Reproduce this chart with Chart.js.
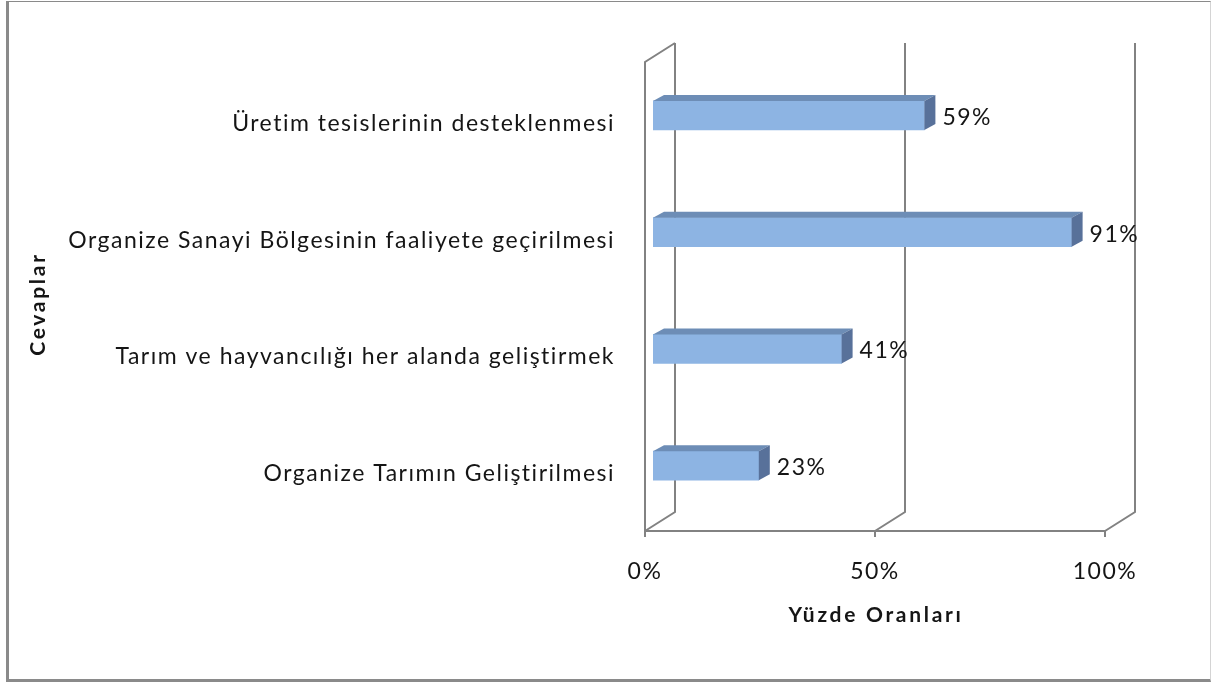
<!DOCTYPE html>
<html>
<head>
<meta charset="utf-8">
<script src="https://cdn.jsdelivr.net/npm/chart.js@4"></script>
<style>
  html, body { margin: 0; padding: 0; background: #fff; }
  #wrap { position: relative; width: 1212px; height: 682px; }
  #chart { position: absolute; left: 0; top: 0; }
  #frame {
    position: absolute; left: 6px; top: 1px; width: 1205px; height: 681px;
    box-sizing: border-box; pointer-events: none;
    border-left: 3px solid #8a8a8a; border-top: 1px solid #8a8a8a;
    border-bottom: 3px solid #8a8a8a; border-right: 1px solid #d4d4d4;
  }
</style>
</head>
<body>
<div id="wrap">
  <canvas id="chart" width="1212" height="682"></canvas>
  <div id="frame"></div>
</div>
<script>
// Survey answers and their shares (percent)
const categories = [
  'Üretim tesislerinin desteklenmesi',
  'Organize Sanayi Bölgesinin faaliyete geçirilmesi',
  'Tarım ve hayvancılığı her alanda geliştirmek',
  'Organize Tarımın Geliştirilmesi'
];
const shares = [59, 91, 41, 23];
const tickValues = [0, 50, 100];
const xTitle = 'Yüzde Oranları';
const yTitle = 'Cevaplar';

const FONT = 'Lato';
const TEXT = '#151515';
const LINE = '#828282';
const FRONT = '#8db4e3';
const TOP = '#6d8db6';
const SIDE = '#58719a';
// depth of the 3D floor, and of the bars
const DEPTH = { dx: 30, dy: -19 };
const BACK_SHIFT = 22;   // back wall relative to bar scale
const FRONT_SHIFT = -8;  // front edge relative to bar scale
const BAR_D = { dx: 11, dy: -6 };

const spacing = '1.5px';

const threeD = {
  id: 'threeD',
  beforeUpdate(chart) { chart.ctx.letterSpacing = spacing; },
  beforeDraw(chart) { chart.ctx.letterSpacing = spacing; },
  beforeDatasetsDraw(chart) {
    const ctx = chart.ctx;
    const x = chart.scales.x;
    const floorY = 531;
    const backTop = 43;
    ctx.save();
    ctx.strokeStyle = LINE;
    ctx.lineWidth = 2;
    ctx.lineCap = 'butt';
    // left wall
    const x0f = x.getPixelForValue(0) + FRONT_SHIFT;
    ctx.beginPath();
    ctx.moveTo(x0f, floorY);
    ctx.lineTo(x0f, backTop - DEPTH.dy);
    ctx.lineTo(x0f + DEPTH.dx, backTop);
    ctx.stroke();
    // floor front edge
    ctx.beginPath();
    ctx.moveTo(x0f, floorY);
    ctx.lineTo(x.getPixelForValue(100) + FRONT_SHIFT, floorY);
    ctx.stroke();
    tickValues.forEach(v => {
      const fx = x.getPixelForValue(v) + FRONT_SHIFT;
      const bx = x.getPixelForValue(v) + BACK_SHIFT;
      ctx.beginPath();
      ctx.moveTo(fx, floorY);
      ctx.lineTo(bx, floorY + DEPTH.dy);
      ctx.lineTo(bx, backTop);
      ctx.stroke();
      // tick mark
      ctx.beginPath();
      ctx.moveTo(fx, floorY);
      ctx.lineTo(fx, floorY + 6);
      ctx.stroke();
    });
    ctx.restore();
  },
  afterDatasetsDraw(chart) {
    const ctx = chart.ctx;
    const meta = chart.getDatasetMeta(0);
    ctx.save();
    meta.data.forEach((bar, i) => {
      const top = bar.y - bar.height / 2;
      const bottom = bar.y + bar.height / 2;
      const left = bar.base;
      const right = bar.x;
      // top face
      ctx.fillStyle = TOP;
      ctx.beginPath();
      ctx.moveTo(left, top);
      ctx.lineTo(left + BAR_D.dx, top + BAR_D.dy);
      ctx.lineTo(right + BAR_D.dx, top + BAR_D.dy);
      ctx.lineTo(right, top);
      ctx.closePath();
      ctx.fill();
      // side face
      ctx.fillStyle = SIDE;
      ctx.beginPath();
      ctx.moveTo(right, top);
      ctx.lineTo(right + BAR_D.dx, top + BAR_D.dy);
      ctx.lineTo(right + BAR_D.dx, bottom + BAR_D.dy);
      ctx.lineTo(right, bottom);
      ctx.closePath();
      ctx.fill();
      // value label
      ctx.letterSpacing = spacing;
      ctx.fillStyle = TEXT;
      ctx.font = '23px ' + FONT;
      ctx.textAlign = 'left';
      ctx.textBaseline = 'middle';
      ctx.fillText(shares[i] + '%', right + 18, bar.y + 2);
    });
    // axis titles
    ctx.font = 'bold 21px ' + FONT;
    ctx.letterSpacing = '2.7px';
    ctx.textAlign = 'center';
    ctx.textBaseline = 'middle';
    ctx.fillText(xTitle, 876, 615);
    ctx.translate(38, 304);
    ctx.rotate(-Math.PI / 2);
    ctx.fillText(yTitle, 0, 0);
    ctx.restore();
  }
};

new Chart(document.getElementById('chart'), {
  type: 'bar',
  data: {
    labels: categories,
    datasets: [{
      data: shares,
      backgroundColor: FRONT,
      borderWidth: 0,
      barThickness: 29
    }]
  },
  options: {
    indexAxis: 'y',
    responsive: false,
    animation: false,
    layout: { padding: { top: 57, right: 99, bottom: 0, left: 0 } },
    plugins: { legend: { display: false }, tooltip: { enabled: false } },
    scales: {
      x: {
        min: 0, max: 100,
        afterFit(s) { s.height = 158; },
        afterBuildTicks(s) { s.ticks = tickValues.map(v => ({ value: v })); },
        grid: { display: false, drawTicks: false },
        border: { display: false },
        ticks: {
          padding: 34,
          labelOffset: FRONT_SHIFT,
          color: TEXT,
          font: { family: FONT, size: 23 },
          callback: v => v + '%'
        }
      },
      y: {
        afterFit(s) { s.width = 653; },
        grid: { display: false, drawTicks: false },
        border: { display: false },
        ticks: {
          padding: 38,
          labelOffset: 8,
          color: TEXT,
          font: { family: FONT, size: 23 }
        }
      }
    }
  },
  plugins: [threeD]
});
</script>
</body>
</html>
